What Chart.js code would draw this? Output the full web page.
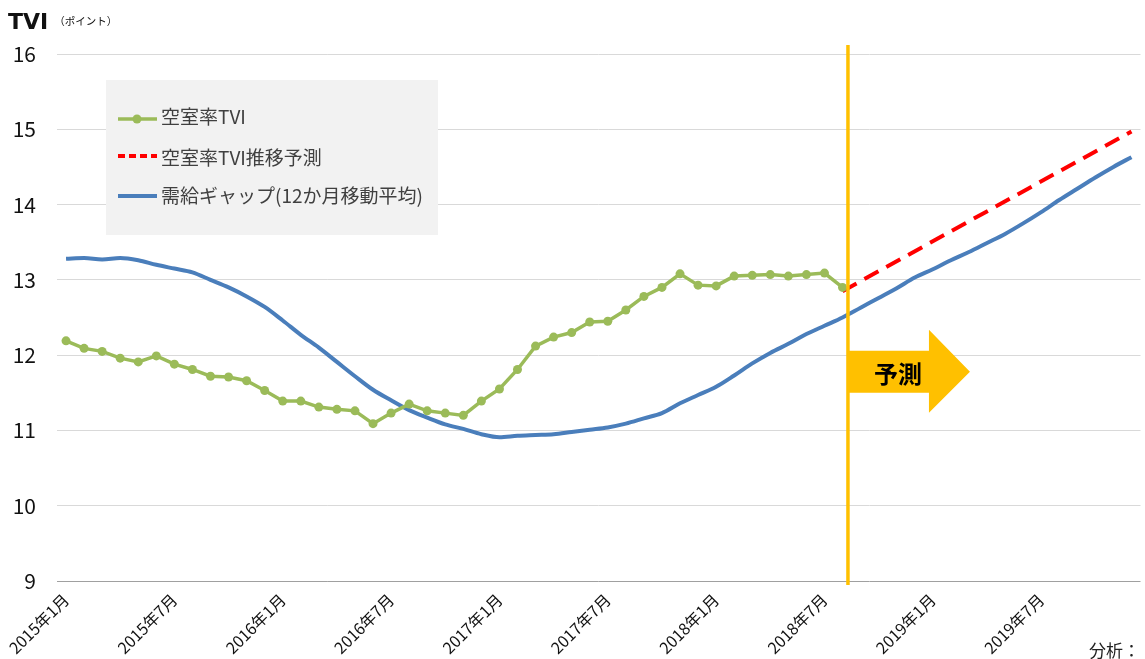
<!DOCTYPE html>
<html>
<head>
<meta charset="utf-8">
<script src="https://cdn.jsdelivr.net/npm/chart.js@4.4.0/dist/chart.umd.min.js"></script>
<style>
    html, body { margin: 0; padding: 0; background: #fff; overflow: hidden; }
    #wrap { position: relative; width: 1145px; height: 659px; }
    #title { position: absolute; left: 8px; top: 11px; font: bold 22px "DejaVu Sans"; line-height: 1; color: #111; }
    #title span { font: normal 10.5px "Noto Sans CJK JP"; margin-left: 6px; vertical-align: 4px; }
    #note { position: absolute; left: 1089px; top: 641px; font: 17px "Noto Sans CJK JP"; line-height: 1; color: #222; }
</style>
</head>
<body>
<div id="wrap">
    <canvas id="chart" width="1145" height="659"></canvas>
    <div id="title">TVI<span>（ポイント）</span></div>
    <div id="note">分析：</div>
</div>
<script>
// months on the category axis, 2015年1月 .. 2019年12月
var months = [];
for (var yr = 2015; yr <= 2019; yr++) {
    for (var m = 1; m <= 12; m++) {
        months.push(yr + '年' + m + '月');
    }
}

// 空室率TVI (2015年1月 - 2018年8月)
var vacancyTVI = [
    12.19, 12.09, 12.05, 11.96, 11.91, 11.99, 11.88, 11.81, 11.72, 11.71, 11.66, 11.53,
    11.39, 11.39, 11.31, 11.28, 11.26, 11.09, 11.23, 11.35, 11.26, 11.23, 11.20, 11.39,
    11.55, 11.81, 12.12, 12.24, 12.30, 12.44, 12.45, 12.60, 12.78, 12.90, 13.08, 12.93,
    12.92, 13.05, 13.06, 13.07, 13.05, 13.07, 13.09, 12.90
];

// 空室率TVI推移予測 : start and end of the dashed line
var forecastMonths = ['2018年8月', '2019年12月'];
var forecastValues = [12.85, 14.97];

// 需給ギャップ(12か月移動平均)
var supplyGap = [
    13.28, 13.29, 13.27, 13.29, 13.26, 13.20, 13.15, 13.10, 13.00, 12.90, 12.78, 12.64,
    12.46, 12.27, 12.10, 11.91, 11.72, 11.54, 11.40, 11.27, 11.17, 11.08, 11.02, 10.95,
    10.91, 10.93, 10.94, 10.95, 10.98, 11.01, 11.04, 11.09, 11.16, 11.23, 11.36, 11.47,
    11.58, 11.73, 11.89, 12.03, 12.15, 12.28, 12.39, 12.50, 12.63, 12.76, 12.89, 13.03,
    13.14, 13.26, 13.37, 13.49, 13.61, 13.75, 13.90, 14.06, 14.21, 14.36, 14.50, 14.63
];

var yMin = 9, yMax = 16;
var labelEvery = 6;
var forecastStart = 43.3;   // position of the orange 予測 line (category index)
var arrowLevel = 11.78;     // height of the arrow (value axis)
var arrowText = '予測';

var forecastData = [];
for (var i = 0; i < forecastMonths.length; i++) {
    forecastData.push({ x: forecastMonths[i], y: forecastValues[i] });
}

var cjk = '"Noto Sans CJK JP", sans-serif';
Chart.defaults.font.family = cjk;

var overlay = {
    id: 'overlay',
    beforeDatasetsDraw: function(chart) {
        var ctx = chart.ctx, a = chart.chartArea;
        var bx = a.left + 49, by = a.top + 26;
        ctx.save();
        ctx.fillStyle = '#F2F2F2';
        ctx.fillRect(bx, by, 332, 155);
        var rowY = [39, 76, 116];
        chart.data.datasets.forEach(function(ds, i) {
            var y = by + rowY[i];
            ctx.strokeStyle = ds.borderColor;
            ctx.lineWidth = ds.borderWidth;
            ctx.setLineDash(ds.borderDash ? [7, 4] : []);
            ctx.beginPath();
            ctx.moveTo(bx + 12, y);
            ctx.lineTo(bx + 51, y);
            ctx.stroke();
            if (ds.pointRadius) {
                ctx.fillStyle = ds.backgroundColor;
                ctx.beginPath();
                ctx.arc(bx + 31, y, ds.pointRadius, 0, Math.PI * 2);
                ctx.fill();
            }
            ctx.setLineDash([]);
            ctx.fillStyle = '#404040';
            ctx.font = '19px ' + cjk;
            ctx.textBaseline = 'middle';
            ctx.textAlign = 'left';
            ctx.fillText(ds.label, bx + 55, y - (i === 0 ? 2 : 0) + (i === 1 ? 2 : 0));
        });
        ctx.restore();
    },
    afterDatasetsDraw: function(chart) {
        var ctx = chart.ctx, a = chart.chartArea;
        var x = chart.scales.x.getPixelForValue(forecastStart);
        var cy = chart.scales.y.getPixelForValue(arrowLevel);
        ctx.save();
        // arrow
        ctx.fillStyle = '#FFC000';
        ctx.beginPath();
        ctx.moveTo(x, cy - 21);
        ctx.lineTo(x + 81, cy - 21);
        ctx.lineTo(x + 81, cy - 42);
        ctx.lineTo(x + 122, cy);
        ctx.lineTo(x + 81, cy + 41);
        ctx.lineTo(x + 81, cy + 21);
        ctx.lineTo(x, cy + 21);
        ctx.closePath();
        ctx.fill();
        ctx.fillStyle = '#000';
        ctx.font = 'bold 24px ' + cjk;
        ctx.textAlign = 'center';
        ctx.textBaseline = 'middle';
        ctx.fillText(arrowText, x + 50, cy + 2);
        // vertical line
        ctx.strokeStyle = '#FFC000';
        ctx.lineWidth = 3.5;
        ctx.beginPath();
        ctx.moveTo(x, a.top - 9);
        ctx.lineTo(x, a.bottom + 4);
        ctx.stroke();
        ctx.restore();
    }
};

var chart = new Chart(document.getElementById('chart'), {
    type: 'line',
    data: {
        labels: months,
        datasets: [{
            label: '空室率TVI',
            data: vacancyTVI,
            borderColor: '#9BBB59',
            backgroundColor: '#9BBB59',
            borderWidth: 3.5,
            pointRadius: 4.5,
            pointHoverRadius: 4.5,
            pointBorderWidth: 0,
            tension: 0
        }, {
            label: '空室率TVI推移予測',
            data: forecastData,
            borderColor: '#FF0000',
            borderWidth: 4,
            borderDash: [16, 9],
            pointRadius: 0,
            spanGaps: true
        }, {
            label: '需給ギャップ(12か月移動平均)',
            data: supplyGap,
            borderColor: '#4A7EBB',
            borderWidth: 4,
            pointRadius: 0,
            cubicInterpolationMode: 'monotone'
        }]
    },
    options: {
        responsive: false,
        animation: false,
        layout: { padding: { top: 54, left: 0, right: 0, bottom: 0 } },
        plugins: {
            legend: { display: false },
            tooltip: { enabled: false }
        },
        scales: {
            x: {
                offset: true,
                grid: { display: false, drawTicks: false },
                border: { display: false },
                ticks: {
                    autoSkip: false,
                    minRotation: 45,
                    maxRotation: 45,
                    padding: 9,
                    color: '#111',
                    font: { size: 16 },
                    callback: function(v, i) {
                        return i % labelEvery === 0 ? this.getLabelForValue(v) : '';
                    }
                },
                afterFit: function(s) {
                    s.height = 78;
                    s.paddingLeft = 0;
                    s.paddingRight = 0;
                }
            },
            y: {
                min: yMin,
                max: yMax,
                ticks: { stepSize: 1, padding: 21, color: '#111', font: { size: 21 } },
                grid: {
                    drawTicks: false,
                    color: function(c) { return c.tick && c.tick.value === yMin ? '#A0A0A0' : '#D9D9D9'; }
                },
                border: { display: false },
                afterFit: function(s) { s.width = 57; }
            }
        }
    },
    plugins: [overlay]
});
</script>
</body>
</html>
